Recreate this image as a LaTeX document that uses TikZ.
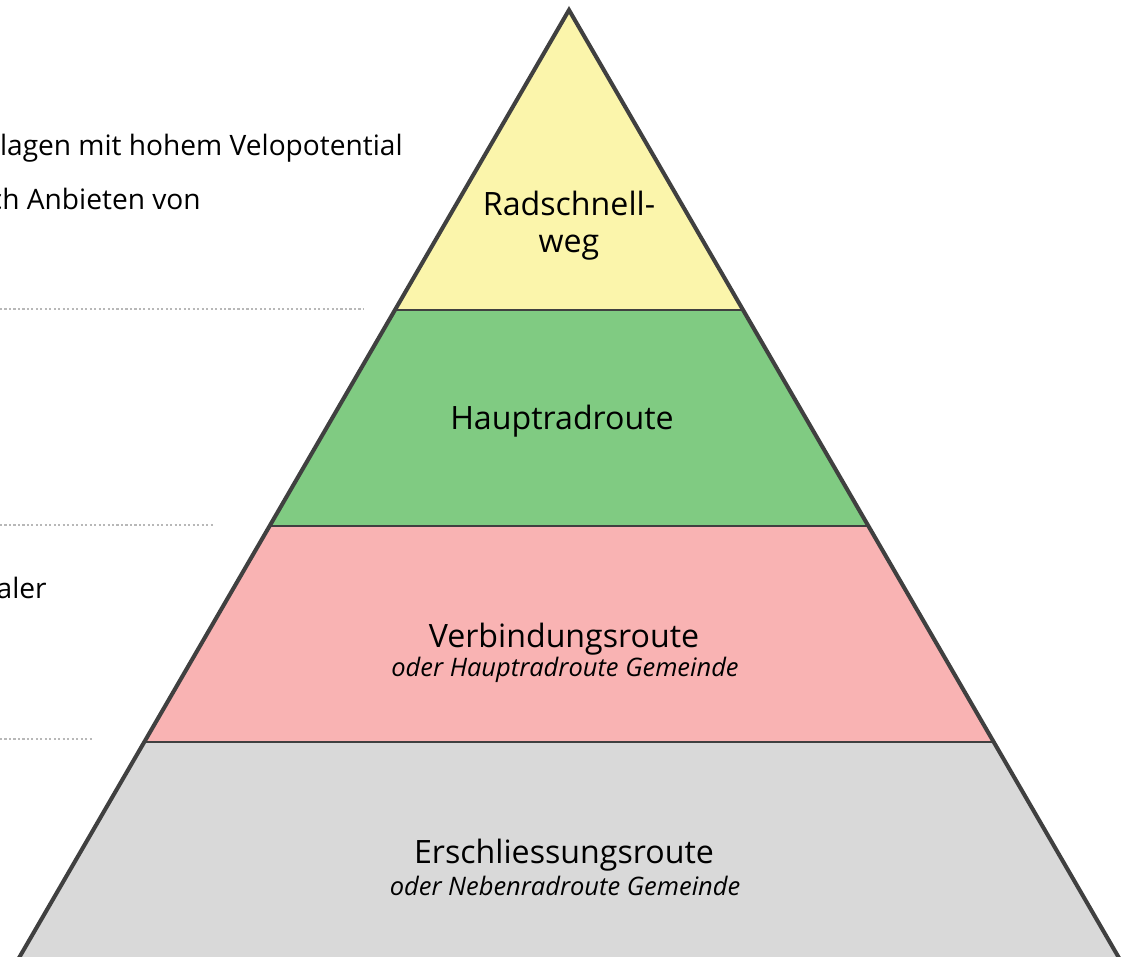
\documentclass[tikz,border=0pt]{standalone}
\usepackage{fontspec}
\setmainfont{Open Sans}
\definecolor{edgegray}{HTML}{404040}
\definecolor{guidegray}{HTML}{B8B8B8}
\definecolor{fillyellow}{HTML}{FBF5AB}
\definecolor{fillgreen}{HTML}{80CB82}
\definecolor{fillpink}{HTML}{F9B3B3}
\definecolor{fillgray}{HTML}{D9D9D9}
\begin{document}
\begin{tikzpicture}[x=0.02cm,y=-0.02cm,inner sep=0pt,
        layer/.style={draw=edgegray,line width=1.1pt},
        guide/.style={draw=guidegray,line width=1.2pt,dash pattern=on 1.2pt off 1.35pt},
        title/.style={font=\fontsize{18.3}{21}\selectfont,align=center},
        sub/.style={font=\fontsize{14.5}{17}\selectfont\itshape},
        side/.style={font=\fontsize{16}{19}\selectfont,anchor=east}]
        \useasboundingbox (0,0) rectangle (1130,957);
        \clip (0,0) rectangle (1130,957);
        % \draw[help lines,step=100] (0,0) grid (1130,957);
        \coordinate (top) at (569,10);
        \coordinate (l1) at (395,310); \coordinate (r1) at (743,310);
        \coordinate (l2) at (269,526); \coordinate (r2) at (869,526);
        \coordinate (l3) at (145,742); \coordinate (r3) at (993,742);
        \coordinate (l4) at (-6,1001); \coordinate (r4) at (1144,1001);
        \fill[fillyellow] (top) -- (r1) -- (l1) -- cycle;
        \fill[fillgreen] (l1) -- (r1) -- (r2) -- (l2) -- cycle;
        \fill[fillpink] (l2) -- (r2) -- (r3) -- (l3) -- cycle;
        \fill[fillgray] (l3) -- (r3) -- (r4) -- (l4) -- cycle;
        \draw[layer] (l1) -- (r1) (l2) -- (r2) (l3) -- (r3);
        \draw[layer,line width=2.3pt,line join=miter] (l4) -- (top) -- (r4);
        % dotted guides on the left
        \coordinate (g1) at (364,309);
        \coordinate (g2) at (213,525);
        \coordinate (g3) at (93,739);
        \draw[guide] (0,309) -- (g1);
        \draw[guide] (0,525) -- (g2);
        \draw[guide] (0,739) -- (g3);
        \node[title] (rsw) at (569,226) {Radschnell-\\weg};
        \node[title] (hr) at (562,421) {Hauptradroute};
        \node[title] (vr) at (564,639) {Verbindungsroute};
        \node[sub] (vrs) at (565,670) {oder Hauptradroute Gemeinde};
        \node[title] (er) at (564,855) {Erschliessungsroute};
        \node[sub] (ers) at (565,886) {oder Nebenradroute Gemeinde};
        \node[side] (t1) at (403,148) {lagen mit hohem Velopotential};
        \node[side] (t2) at (201,199) {ch Anbieten von};
        \node[side] (t3) at (47,588) {aler};
        % \node[draw=red, fit=(hr) (vr)] {};
\end{tikzpicture}
\end{document}
